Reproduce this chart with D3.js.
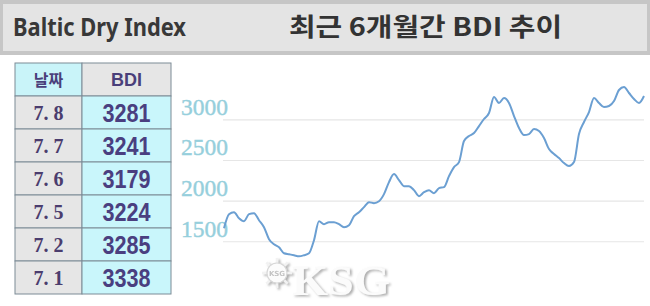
<!DOCTYPE html>
<html>
<head>
<meta charset="utf-8">
<script src="https://cdn.jsdelivr.net/npm/d3@7"></script>
<style>
  body { margin: 0; background: #fff; }
  svg { display: block; }
</style>
</head>
<body>
<div id="chart"></div>
<script>
// header titles
var titleLeft = "Baltic Dry Index";
var titleRight = "최근 6개월간 BDI 추이";

// table on the left
var tableHead = ["날짜", "BDI"];
var tableDates = ["7. 8", "7. 7", "7. 6", "7. 5", "7. 2", "7. 1"];
var tableBdi = [3281, 3241, 3179, 3224, 3285, 3338];

// 6 month trend (oldest first)
var bdiTrend = [
  1661, 1833, 1858, 1784, 1747, 1833, 1846, 1759, 1673, 1525,
  1463, 1426, 1352, 1340, 1328, 1315, 1328, 1352, 1513, 1747,
  1710, 1734, 1734, 1710, 1673, 1698, 1809, 1858, 1920, 1981,
  1969, 1993, 2080, 2228, 2326, 2252, 2178, 2178, 2129, 2055,
  2104, 2129, 2092, 2154, 2166, 2301, 2412, 2474, 2733, 2794,
  2831, 2917, 3004, 3078, 3275, 3201, 3262, 3201, 3041, 2893,
  2806, 2819, 2880, 2856, 2770, 2634, 2573, 2523, 2462, 2425,
  2474, 2819, 2967, 3090, 3262, 3201, 3152, 3164, 3225, 3361,
  3398, 3324, 3250, 3201, 3287
];
var yTicks = [1500, 2000, 2500, 3000];

var width = 650;
var height = 306;

var svg = d3.select("#chart")
  .append("svg")
  .attr("width", width)
  .attr("height", height);

// shadow for the watermark
var defs = svg.append("defs");
defs.append("filter")
  .attr("id", "wmShadow")
  .attr("x", "-10%").attr("y", "-10%")
  .attr("width", "130%").attr("height", "130%")
  .append("feDropShadow")
  .attr("dx", 2).attr("dy", 1.5)
  .attr("stdDeviation", 1)
  .attr("flood-color", "#9a9a9a")
  .attr("flood-opacity", 0.8);

// header band
svg.append("rect")
  .attr("x", 0).attr("y", 0)
  .attr("width", width).attr("height", 55)
  .attr("fill", "#c6c6c6");
svg.append("rect")
  .attr("x", 3).attr("y", 4)
  .attr("width", 644).attr("height", 47)
  .attr("fill", "#e4e4e4");

svg.append("text")
  .attr("x", 13).attr("y", 36)
  .attr("font-family", "'Noto Sans', sans-serif")
  .attr("font-weight", "bold")
  .attr("font-size", 25)
  .attr("fill", "#383838")
  .attr("textLength", 173)
  .attr("lengthAdjust", "spacingAndGlyphs")
  .text(titleLeft);

svg.append("text")
  .attr("x", 289).attr("y", 36)
  .attr("font-family", "'Noto Sans CJK KR', sans-serif")
  .attr("font-weight", "bold")
  .attr("font-size", 25)
  .attr("fill", "#333")
  .attr("textLength", 273)
  .attr("lengthAdjust", "spacingAndGlyphs")
  .text(titleRight);

// table
var tbl = {left: 15, mid: 82, right: 171, top: 63, rowH: 33};
var tableG = svg.append("g");

var rows = [tableHead].concat(tableDates.map(function(d, i) { return [d, tableBdi[i]]; }));

rows.forEach(function(r, i) {
  var y0 = tbl.top + i * tbl.rowH;
  var isHead = (i === 0);
  tableG.append("rect")
    .attr("x", tbl.left).attr("y", y0)
    .attr("width", tbl.mid - tbl.left).attr("height", tbl.rowH)
    .attr("fill", isHead ? "#c9f4f9" : "#e6e6e6")
    .attr("stroke", "#7d8b96").attr("stroke-width", 1);
  tableG.append("rect")
    .attr("x", tbl.mid).attr("y", y0)
    .attr("width", tbl.right - tbl.mid).attr("height", tbl.rowH)
    .attr("fill", isHead ? "#e6e6e6" : "#c9f6fb")
    .attr("stroke", "#7d8b96").attr("stroke-width", 1);

  var cy = y0 + tbl.rowH / 2;
  if (isHead) {
    tableG.append("text")
      .attr("x", (tbl.left + tbl.mid) / 2).attr("y", cy + 6)
      .attr("text-anchor", "middle")
      .attr("font-family", "'Noto Sans CJK KR', sans-serif")
      .attr("font-weight", "bold")
      .attr("font-size", 16)
      .attr("fill", "#4a3f7a")
      .text(r[0]);
    tableG.append("text")
      .attr("x", (tbl.mid + tbl.right) / 2).attr("y", cy + 6)
      .attr("text-anchor", "middle")
      .attr("font-family", "'Liberation Sans', Arial, sans-serif")
      .attr("font-weight", "bold")
      .attr("font-size", 18)
      .attr("fill", "#4a3f7a")
      .text(r[1]);
  } else {
    tableG.append("text")
      .attr("x", (tbl.left + tbl.mid) / 2).attr("y", cy + 7)
      .attr("text-anchor", "middle")
      .attr("font-family", "'Liberation Serif', serif")
      .attr("font-weight", "bold")
      .attr("font-size", 20)
      .attr("fill", "#4b3d6e")
      .text(r[0]);
    tableG.append("text")
      .attr("x", (tbl.mid + tbl.right) / 2).attr("y", cy + 9)
      .attr("text-anchor", "middle")
      .attr("font-family", "'Liberation Sans', Arial, sans-serif")
      .attr("font-weight", "bold")
      .attr("font-size", 25)
      .attr("fill", "#4a3f80")
      .attr("textLength", 48)
      .attr("lengthAdjust", "spacingAndGlyphs")
      .text(r[1]);
  }
});

// line chart area
var plot = {left: 224, right: 644};

var xScale = d3.scaleLinear()
  .domain([0, bdiTrend.length - 1])
  .range([plot.left, plot.right]);

var yScale = d3.scaleLinear()
  .domain([1000, 3500])
  .range([281.9, 78.7]);

// grid lines
var grid = svg.append("g")
  .attr("transform", "translate(" + 223 + ",0)")
  .call(d3.axisRight(yScale).tickValues(yTicks).tickSize(421).tickFormat(""));
grid.select(".domain").remove();
grid.selectAll("line").attr("stroke", "#e6e6e6").attr("stroke-width", 1.2);

// y labels
var yAxis = svg.append("g")
  .attr("transform", "translate(" + 228 + ",0)")
  .call(d3.axisLeft(yScale).tickValues(yTicks).tickSize(0).tickPadding(0)
    .tickFormat(d3.format("d")));
yAxis.select(".domain").remove();
yAxis.selectAll("text")
  .attr("dy", "-0.22em")
  .attr("font-family", "'Liberation Serif', serif")
  .attr("font-size", 23)
  .attr("fill", "#96cfdc")
  .attr("stroke", "#96cfdc")
  .attr("stroke-width", 0.4)
  .attr("textLength", 47)
  .attr("lengthAdjust", "spacingAndGlyphs");

// trend line
var line = d3.line()
  .x(function(d, i) { return xScale(i); })
  .y(function(d) { return yScale(d); })
  .curve(d3.curveMonotoneX);

svg.append("path")
  .datum(bdiTrend)
  .attr("fill", "none")
  .attr("stroke", "#6b9fd2")
  .attr("stroke-width", 2)
  .attr("stroke-linejoin", "round")
  .attr("d", line);

// KSG watermark
var wm = svg.append("g").attr("filter", "url(#wmShadow)");
var wheel = wm.append("g").attr("transform", "translate(277,273)");
d3.range(8).forEach(function(k) {
  var a = k * Math.PI / 4;
  wheel.append("line")
    .attr("x1", 0).attr("y1", 0)
    .attr("x2", 15 * Math.cos(a)).attr("y2", 15 * Math.sin(a))
    .attr("stroke", "#f2f2f2").attr("stroke-width", 2.5);
});
wheel.append("circle").attr("r", 10)
  .attr("fill", "#fcfcfc").attr("stroke", "#d8d8d8").attr("stroke-width", 1.2);
wheel.append("text")
  .attr("y", 3).attr("text-anchor", "middle")
  .attr("font-family", "'DejaVu Sans', sans-serif")
  .attr("font-size", 7).attr("font-weight", "bold")
  .attr("fill", "#c4c4c4")
  .text("KSG");
wm.append("text")
  .attr("x", 292).attr("y", 295)
  .attr("font-family", "'Liberation Serif', serif")
  .attr("font-weight", "bold")
  .attr("font-size", 42)
  .attr("fill", "#fbfbfb")
  .attr("textLength", 98)
  .attr("lengthAdjust", "spacingAndGlyphs")
  .text("KSG");
</script>
</body>
</html>
